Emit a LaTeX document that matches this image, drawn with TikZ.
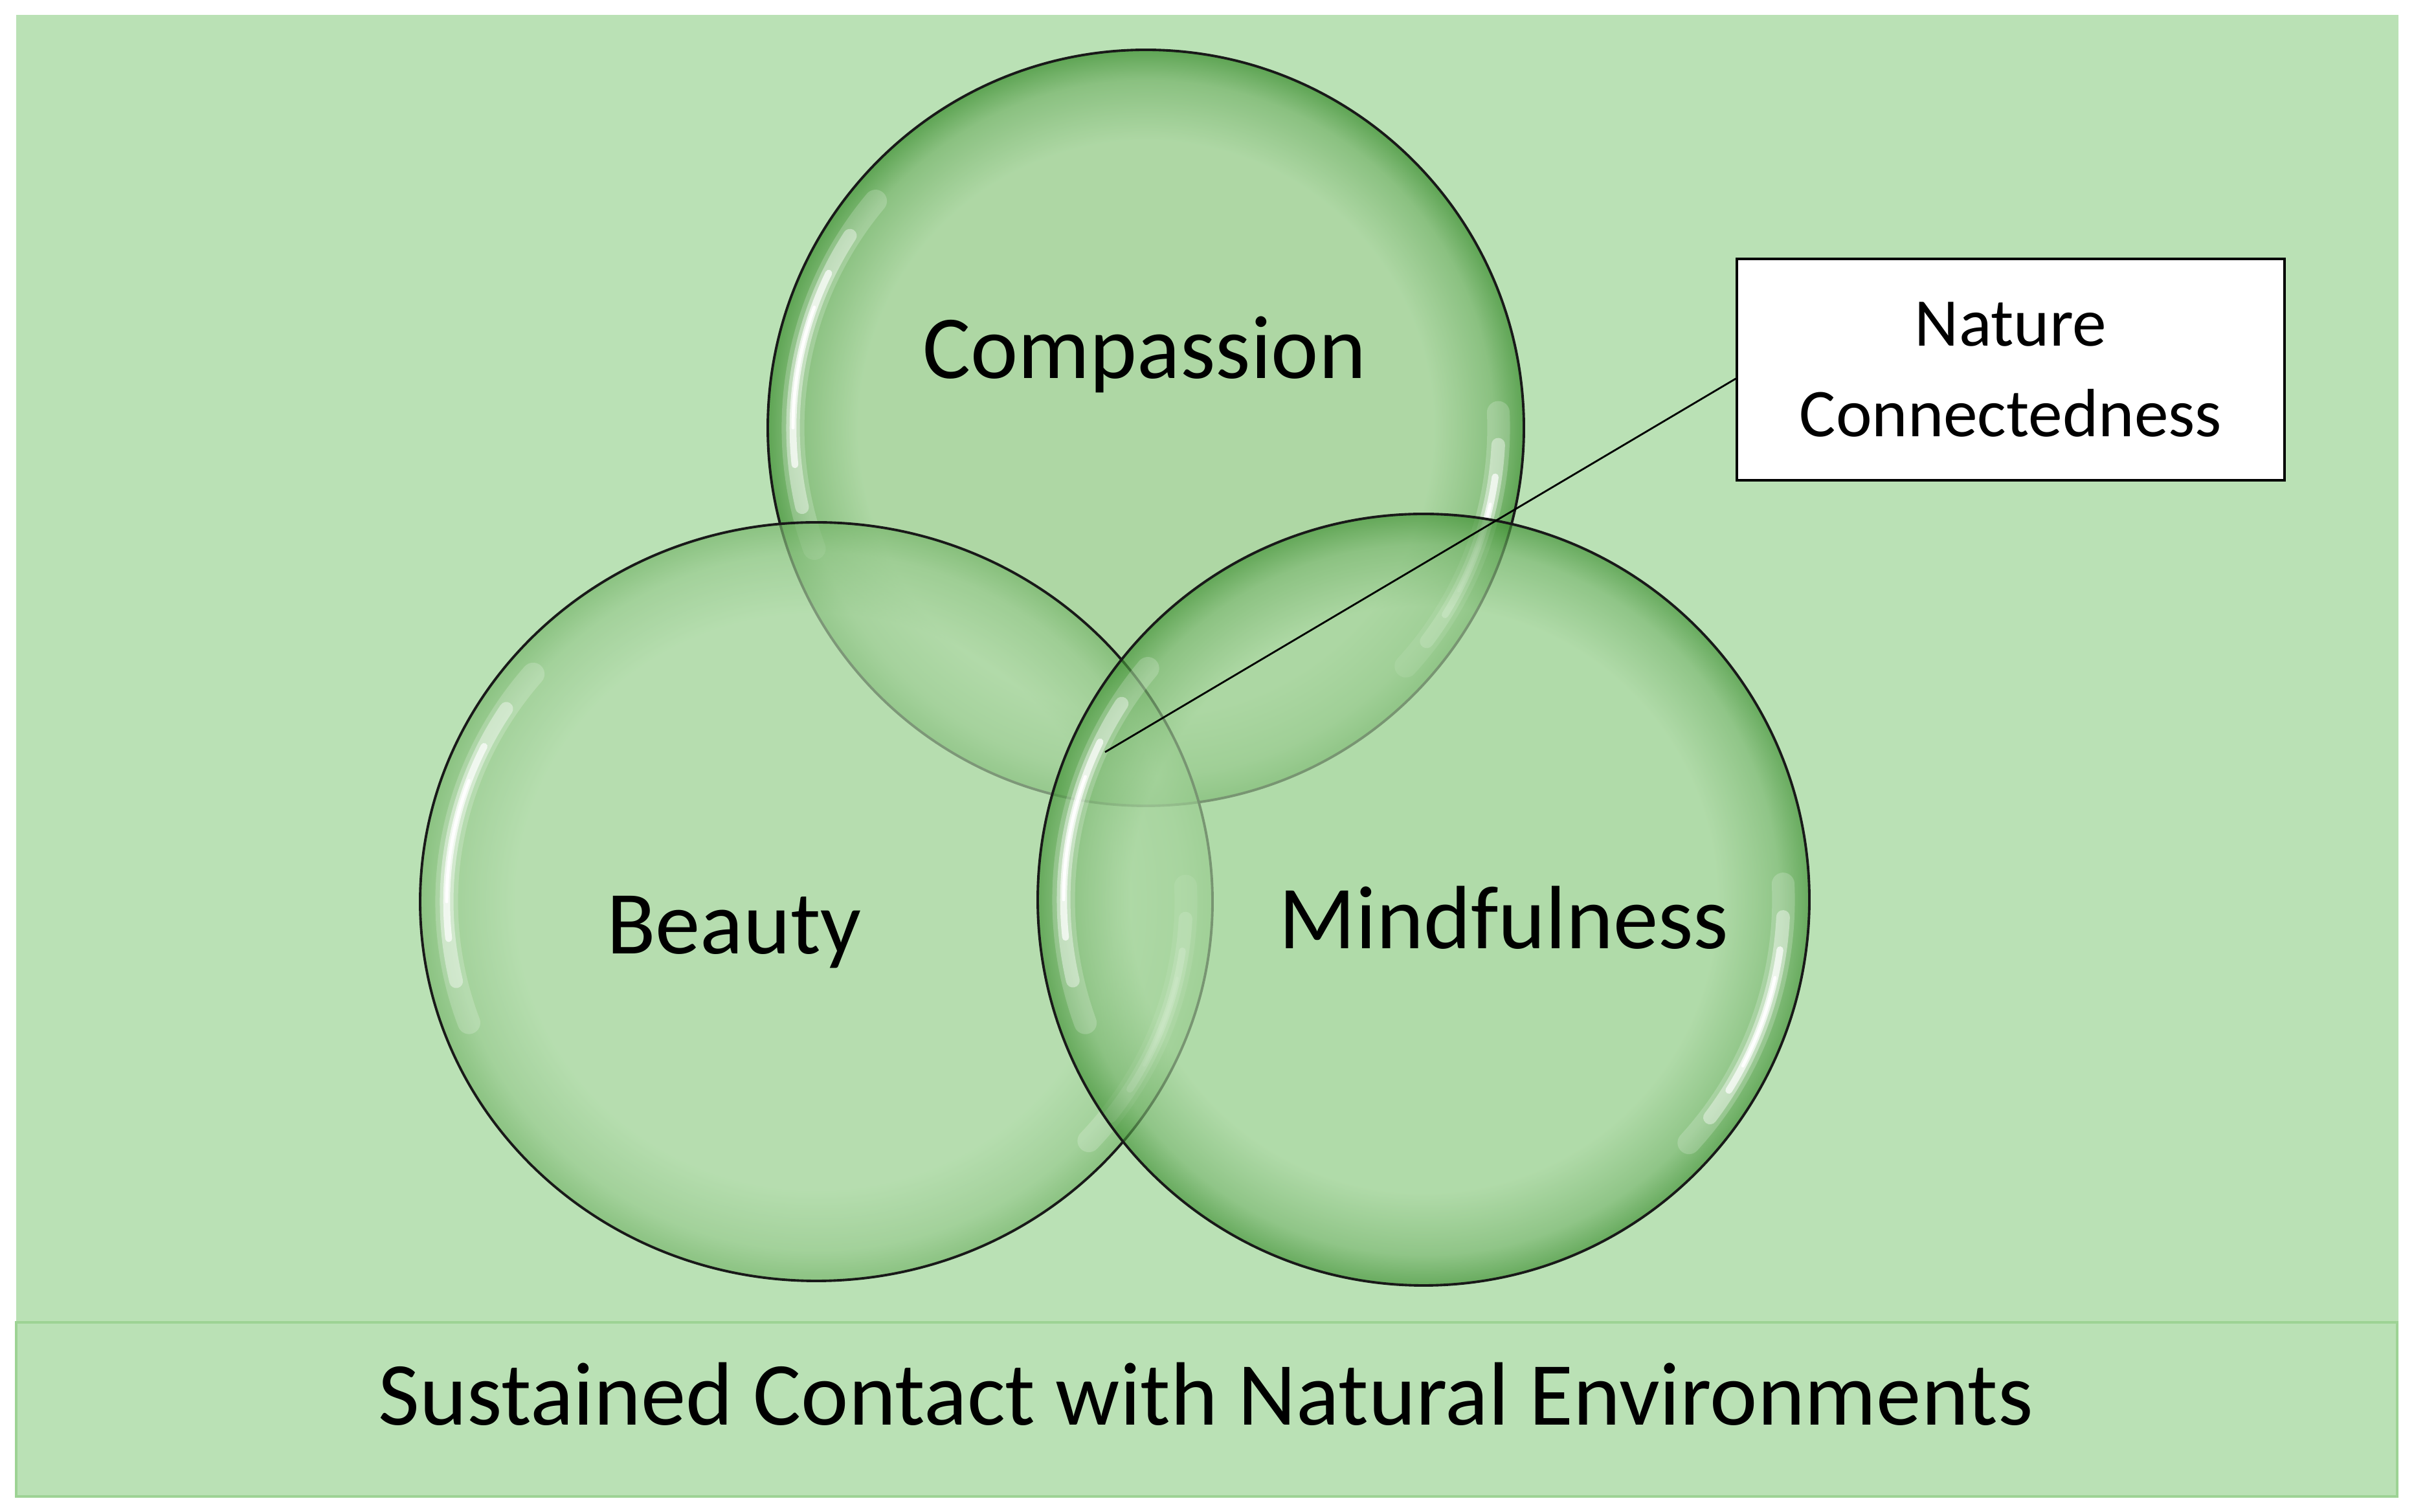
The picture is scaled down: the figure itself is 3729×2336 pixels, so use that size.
\documentclass[tikz,border=0pt]{standalone}
\usepackage{fontspec}
\setmainfont{Carlito}
\usepackage{tikz}

\definecolor{bgGreen}{RGB}{186,225,181}
\definecolor{bandLine}{RGB}{157,211,148}
\definecolor{inC}{RGB}{168,211,156}
\definecolor{rimC}{RGB}{46,133,33}
\definecolor{inB}{RGB}{180,220,172}
\definecolor{rimB}{RGB}{115,179,103}
\definecolor{inM}{RGB}{172,216,163}
\definecolor{rimM}{RGB}{61,143,49}
\colorlet{midC}{inC!55!rimC}
\colorlet{midB}{inB!55!rimB}
\colorlet{midM}{inM!55!rimM}

\pgfdeclareradialshading{bubbleC}{\pgfpoint{0bp}{0bp}}{color(0bp)=(inC); color(19bp)=(inC); color(23bp)=(midC); color(25bp)=(rimC); color(50bp)=(rimC)}
\pgfdeclareradialshading{bubbleB}{\pgfpoint{0bp}{0bp}}{color(0bp)=(inB); color(19bp)=(inB); color(23bp)=(midB); color(25bp)=(rimB); color(50bp)=(rimB)}
\pgfdeclareradialshading{bubbleM}{\pgfpoint{0bp}{0bp}}{color(0bp)=(inM); color(19bp)=(inM); color(23bp)=(midM); color(25bp)=(rimM); color(50bp)=(rimM)}

% white shine on the left and lower right of a bubble
\newcommand{\bubblegloss}[3]{%
    \foreach \w/\o/\d in {10/0.2/30, 6/0.4/23, 3/0.7/16, 1.4/0.95/10}{
        \draw[white, line width=\w pt, opacity=\o, line cap=round]
            (#1) ++(170-\d:#2 and #3) arc[start angle=170-\d, end angle=170+\d, x radius=#2, y radius=#3];
        \draw[white, line width=\w pt, opacity=\o, line cap=round]
            (#1) ++(-20-\d*0.75:#2 and #3) arc[start angle=-20-\d*0.75, end angle=-20+\d*0.75, x radius=#2, y radius=#3];
    }}

\begin{document}
\begin{tikzpicture}[x=0.01cm, y=0.01cm,
    venntext/.style={font=\fontsize{39.5}{47}\selectfont, anchor=base, inner sep=0pt},
    callbox/.style={draw=black, line width=1.1pt, fill=white, align=center,
        minimum width=8.45cm, minimum height=3.42cm, inner sep=0pt,
        font=\fontsize{30}{40}\selectfont},
    ring/.style={draw=black!90, line width=1.1pt}]
    \useasboundingbox (0,0) rectangle (3729,2336);
    \fill[bgGreen] (25,24) rectangle (3705,2313);
    \draw[bandLine, line width=1.3pt, fill=bgGreen] (25,24) rectangle (3703,293);

    % Bubbles
    \coordinate (cC) at (1770,1675);
    \coordinate (cB) at (1261,943);
    \coordinate (cM) at (2199,946);
    \shade[shading=bubbleC, fill opacity=0.65] (cC) circle[radius=584];
    \bubblegloss{cC}{545}{545}
    \draw[ring] (cC) circle[radius=584];
    \shade[shading=bubbleB, fill opacity=0.65] (cB) ellipse[x radius=612, y radius=586];
    \bubblegloss{cB}{571}{547}
    \draw[ring] (cB) ellipse[x radius=612, y radius=586];
    \shade[shading=bubbleM, fill opacity=0.65] (cM) circle[radius=596];
    \bubblegloss{cM}{556}{556}
    \draw[ring] (cM) circle[radius=596];

    % Labels
    \node[venntext] (compassion) at (1768,1751) {Compassion};
    \node[venntext] (beauty)     at (1134,862)  {Beauty};
    \node[venntext] (mindful)    at (2323,870)  {Mindfulness};
    \node[venntext] (contact)    at (1863,134)  {Sustained Contact with Natural Environments};

    % Callout
    \node[callbox] (callout) at (3106,1765) {Nature\\Connectedness};
    \coordinate (nc) at (1707,1174);
    \draw[line width=0.8pt] (nc) -- ([yshift=-0.14cm]callout.west);
\end{tikzpicture}
\end{document}
